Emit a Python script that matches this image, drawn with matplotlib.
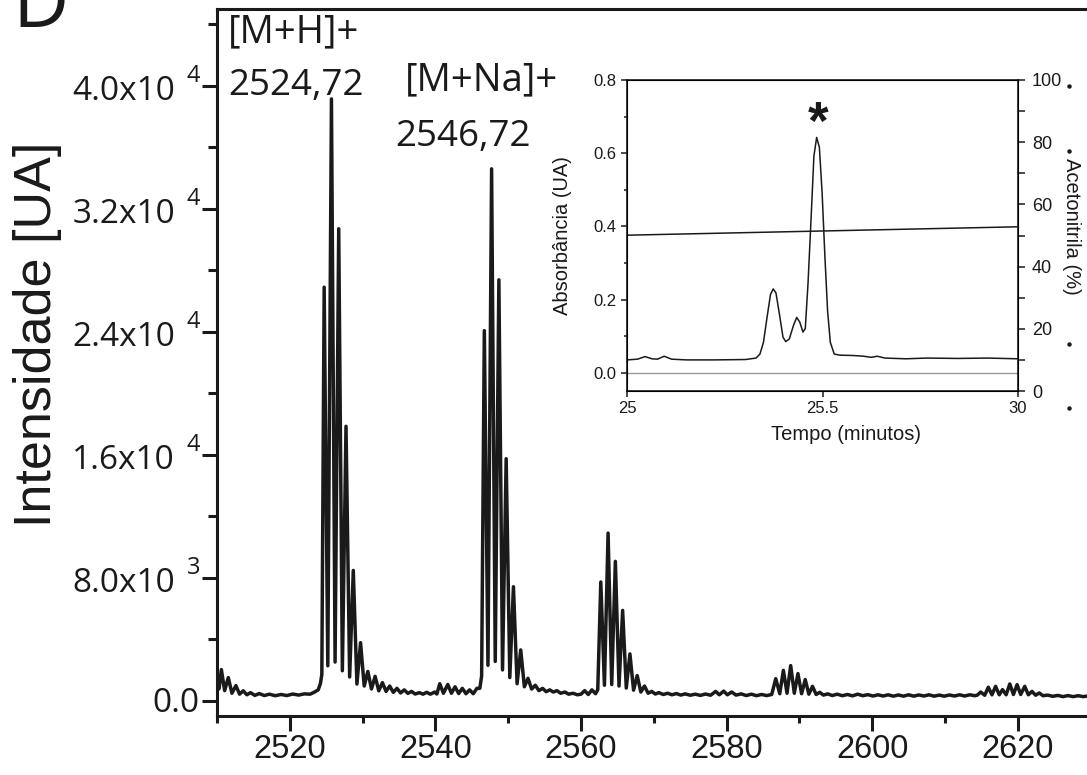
import matplotlib
matplotlib.use('Agg')
import matplotlib.pyplot as plt
import matplotlib.transforms as mtransforms
from matplotlib.lines import Line2D
from matplotlib.ticker import MultipleLocator, FixedLocator
import numpy as np

# Espectro MALDI-TOF: topos dos picos (m/z, contagens)
pico_mz = [2510.6, 2511.55, 2512.6,
           2524.72, 2525.72, 2526.72, 2527.72, 2528.72, 2529.72, 2530.72, 2531.72,
           2532.72, 2533.72, 2534.72, 2535.72, 2536.72,
           2546.72, 2547.72, 2548.72, 2549.72, 2550.72, 2551.72, 2552.72, 2553.72, 2554.72,
           2562.72, 2563.72, 2564.72, 2565.72, 2566.72, 2567.72, 2568.72, 2569.72,
           2586.75, 2587.8, 2588.8, 2589.8, 2590.8, 2591.8, 2592.8,
           2614.9, 2615.95, 2616.95, 2617.9, 2618.9, 2619.9, 2620.95, 2621.95, 2622.95]
pico_int = [2020, 1500, 975,
            26900, 39150, 30700, 17850, 8470, 3770, 1900, 1580,
            1170, 950, 800, 700, 600,
            24070, 34600, 27380, 15740, 7410, 3300, 1450, 1000, 800,
            7720, 10900, 9060, 5870, 3040, 1630, 950, 600,
            1430, 1970, 2280, 1760, 1370, 930, 540,
            560, 870, 930, 715, 1085, 1040, 930, 600, 500]

# linha de base e vales entre os picos
base_mz = [2510.0, 2510.3, 2511.05, 2512.05, 2513.1, 2513.6, 2514.1, 2514.6, 2515.2, 2515.8,
           2516.5, 2517.2, 2518.0, 2518.8, 2519.6, 2520.4, 2521.2, 2522.0, 2522.8, 2523.4,
           2523.9, 2524.2, 2524.4,
           2525.22, 2526.22, 2527.22, 2528.22, 2529.22, 2530.22, 2531.22, 2532.22, 2533.22,
           2534.22, 2535.22, 2536.22, 2537.22,
           2537.8, 2538.3, 2538.8, 2539.3, 2539.9, 2540.2, 2540.6, 2541.1, 2541.7, 2542.2,
           2542.7, 2543.2, 2543.7, 2544.2, 2544.7, 2545.2, 2545.7, 2546.1, 2546.35,
           2547.22, 2548.22, 2549.22, 2550.22, 2551.22, 2552.22, 2553.22, 2554.22, 2555.22,
           2555.7, 2556.2, 2556.7, 2557.2, 2557.8, 2558.3, 2558.9, 2559.5, 2560.0, 2560.5,
           2561.0, 2561.5, 2562.0, 2562.3,
           2563.22, 2564.22, 2565.22, 2566.22, 2567.22, 2568.22, 2569.22, 2570.2,
           2570.7, 2571.3, 2571.9, 2572.5, 2573.1, 2573.7, 2574.3, 2575.0, 2575.7, 2576.4,
           2577.1, 2577.8, 2578.5, 2579.0, 2579.6, 2580.1, 2580.7, 2581.3, 2582.0, 2582.7,
           2583.4, 2584.1, 2584.8, 2585.5, 2586.2,
           2587.3, 2588.3, 2589.3, 2590.3, 2591.3, 2592.3, 2593.3,
           2593.9, 2594.5, 2595.2, 2595.9, 2596.6, 2597.3, 2598.0, 2598.7, 2599.4, 2600.1,
           2600.8, 2601.5, 2602.2, 2602.9, 2603.6, 2604.3, 2605.0, 2605.7, 2606.4, 2607.1,
           2607.8, 2608.5, 2609.2, 2609.9, 2610.6, 2611.3, 2612.0, 2612.7, 2613.4, 2614.1,
           2614.45,
           2615.45, 2616.45, 2617.45, 2618.4, 2619.4, 2620.4, 2621.45, 2622.45, 2623.45,
           2624.1, 2624.8, 2625.5, 2626.2, 2626.9, 2627.6, 2628.3, 2629.0, 2629.7, 2630.3]
base_int = [650, 800, 650, 480, 420, 640, 380, 520, 340, 460,
            330, 420, 320, 400, 330, 430, 360, 440, 420, 560,
            700, 1100, 1700,
            2270, 2510, 1945, 1540, 1080, 950, 760, 640, 600,
            540, 500, 470, 430,
            520, 420, 540, 420, 560, 430, 1100, 480, 1050, 480,
            900, 460, 800, 450, 700, 450, 800, 800, 1600,
            2300, 2550, 2000, 1500, 1100, 900, 750, 650, 580,
            700, 560, 650, 480, 560, 420, 480, 380, 420, 650,
            400, 700, 450, 700,
            1000, 1050, 950, 820, 680, 560, 480, 430,
            520, 400, 480, 380, 460, 360, 440, 350, 420, 340,
            430, 350, 600, 380, 620, 380, 560, 360, 440, 330,
            420, 320, 400, 330, 400,
            450, 480, 480, 450, 420, 400, 360,
            440, 330, 420, 320, 400, 310, 420, 320, 390, 300,
            380, 300, 380, 290, 370, 290, 380, 290, 370, 300,
            380, 290, 360, 290, 370, 300, 380, 300, 380, 320,
            360,
            350, 380, 380, 380, 400, 400, 380, 350, 320,
            360, 280, 340, 260, 330, 260, 320, 260, 310, 280]

# marcas do eixo y principal
y_ticks = [0, 8000, 16000, 24000, 32000, 40000]
y_mant = ['0.0', '8.0x10', '1.6x10', '2.4x10', '3.2x10', '4.0x10']
y_exp = ['', '3', '4', '4', '4', '4']

# cromatograma RP-HPLC (inset)
tempo = [25.000, 25.027, 25.046, 25.064, 25.078, 25.095, 25.114, 25.152, 25.223, 25.303,
         25.330, 25.340, 25.349, 25.358, 25.367, 25.374, 25.381, 25.390, 25.399, 25.406,
         25.415, 25.426, 25.434, 25.442, 25.450, 25.456, 25.463, 25.471, 25.478, 25.485,
         25.492, 25.499, 25.506, 25.513, 25.520, 25.530, 25.544, 25.579, 25.606, 25.624,
         25.640, 25.660, 25.713, 25.766, 25.847, 25.922, 26.000]
absorb = [0.035, 0.037, 0.044, 0.038, 0.037, 0.045, 0.037, 0.035, 0.035, 0.036,
          0.040, 0.051, 0.083, 0.150, 0.214, 0.229, 0.218, 0.159, 0.097, 0.085,
          0.092, 0.130, 0.151, 0.138, 0.111, 0.121, 0.245, 0.426, 0.592, 0.643,
          0.616, 0.492, 0.321, 0.169, 0.083, 0.051, 0.048, 0.047, 0.045, 0.042,
          0.045, 0.040, 0.038, 0.040, 0.039, 0.040, 0.038]
grad_tempo = [25.0, 26.0]
grad_acn = [50.1, 52.8]
t_ticks = [25.0, 25.5, 26.0]
t_labels = ['25', '25.5', '30']

cor = '#1a1a1a'
W, H = 1087, 775
fig = plt.figure(figsize=(W / 100, H / 100), dpi=100)

# ---- espectro principal ----
ax = fig.add_axes([217 / W, 1 - 716 / H, 873.6 / W, 707 / H])
mz = np.array(pico_mz + base_mz)
inten = np.array(pico_int + base_int)
ordem = np.argsort(mz)
ax.plot(mz[ordem], inten[ordem], color=cor, lw=2.5, solid_joinstyle='round')
ax.set_xlim(2510, 2630)
ax.set_ylim(-1000, 45000)

for s in ['left', 'bottom', 'top']:
    ax.spines[s].set_linewidth(2.2)
    ax.spines[s].set_color(cor)
ax.spines['right'].set_visible(False)

ax.xaxis.set_major_locator(MultipleLocator(20))
ax.xaxis.set_minor_locator(MultipleLocator(10))
ax.yaxis.set_major_locator(FixedLocator(y_ticks))
ax.yaxis.set_minor_locator(MultipleLocator(4000))
ax.tick_params(axis='x', which='major', direction='out', length=11, width=2.2, color=cor, pad=2)
ax.tick_params(axis='x', which='minor', direction='out', length=5, width=2.2, color=cor)
ax.tick_params(axis='y', which='major', direction='out', length=10.5, width=2.2, color=cor)
ax.tick_params(axis='y', which='minor', direction='out', length=6.5, width=2.2, color=cor)
ax.set_yticklabels([])
for lb in ax.get_xticklabels():
    lb.set_family('Liberation Sans')
    lb.set_fontsize(23.5)
    lb.set_color(cor)

# rótulos do eixo y com expoente
trans_y = mtransforms.blended_transform_factory(ax.transAxes, ax.transData)
for v, m, e in zip(y_ticks, y_mant, y_exp):
    if e:
        t1 = trans_y + mtransforms.ScaledTranslation(-0.42, -0.14, fig.dpi_scale_trans)
        ax.text(0, v, m, transform=t1, ha='right', va='baseline', fontsize=24,
                family='Open Sans', color=cor)
        t2 = trans_y + mtransforms.ScaledTranslation(-0.17, 0.04, fig.dpi_scale_trans)
        ax.text(0, v, e, transform=t2, ha='right', va='baseline', fontsize=17,
                family='Open Sans', color=cor)
    else:
        t1 = trans_y + mtransforms.ScaledTranslation(-0.17, -0.11, fig.dpi_scale_trans)
        ax.text(0, v, m, transform=t1, ha='right', va='baseline', fontsize=24,
                family='Open Sans', color=cor)

ax.set_ylabel('Intensidade [UA]', fontsize=37.5, family='Liberation Sans', color=cor)
ax.yaxis.set_label_coords(-0.177, 0.54)

ax.text(2511.5, 42800, '[M+H]+', fontsize=27.5, family='Open Sans', color=cor,
        ha='left', va='baseline')
ax.text(2511.5, 39400, '2524,72', fontsize=26.5, family='Open Sans', color=cor,
        ha='left', va='baseline')
ax.text(2535.8, 39700, '[M+Na]+', fontsize=27.5, family='Open Sans', color=cor,
        ha='left', va='baseline')
ax.text(2534.5, 36100, '2546,72', fontsize=26.5, family='Open Sans', color=cor,
        ha='left', va='baseline')

fig.text(12 / W, 1 - 27 / H, 'D', fontsize=56, family='Open Sans', color=cor,
         ha='left', va='baseline')

# ---- inset: cromatograma ----
ai = fig.add_axes([627 / W, 1 - 391 / H, 391 / W, 311 / H])
ai.axhline(0, color='#9a9a9a', lw=1.0)
ai.plot(tempo, absorb, color=cor, lw=1.1)
ai.set_xlim(25, 26)
ai.set_ylim(-0.05, 0.8)
ai.set_xticks(t_ticks)
ai.set_xticklabels(t_labels)
ai.yaxis.set_major_locator(MultipleLocator(0.2))
ai.yaxis.set_minor_locator(MultipleLocator(0.1))
ai.yaxis.set_major_formatter(lambda v, p: f'{v:.1f}')
for s in ai.spines.values():
    s.set_linewidth(1.2)
    s.set_color(cor)
ai.tick_params(which='major', direction='out', length=4.5, width=1.1, color=cor,
               labelsize=12, labelcolor=cor, pad=3)
ai.tick_params(which='minor', direction='out', length=2.5, width=1.1, color=cor)
for lb in ai.get_xticklabels() + ai.get_yticklabels():
    lb.set_family('Liberation Sans')
ai.set_xlabel('Tempo (minutos)', fontsize=14.5, family='Liberation Sans', color=cor)
ai.xaxis.set_label_coords(0.56, -0.11)
ai.set_ylabel('Absorbância (UA)', fontsize=14.5, family='Liberation Sans', color=cor)
ai.yaxis.set_label_coords(-0.14, 0.5)
ai.text(25.488, 0.64, '*', fontsize=38, fontweight='bold', family='Liberation Sans',
        color=cor, ha='center', va='baseline')

ar = ai.twinx()
ar.plot(grad_tempo, grad_acn, color=cor, lw=1.1)
ar.set_ylim(0, 100)
ar.yaxis.set_major_locator(MultipleLocator(20))
ar.yaxis.set_minor_locator(MultipleLocator(10))
ar.tick_params(which='major', direction='out', length=5, width=1.1, color=cor,
               labelsize=13, labelcolor=cor, pad=5)
ar.tick_params(which='minor', direction='out', length=5, width=1.1, color=cor)
for lb in ar.get_yticklabels():
    lb.set_family('Liberation Sans')
ar.set_ylabel('Acetonitrila (%)', fontsize=14.5, family='Liberation Sans', color=cor,
              rotation=270, va='bottom')
ar.yaxis.set_label_coords(1.112, 0.53)

# pontos soltos à direita do inset
for py in [86, 151, 344, 408]:
    fig.add_artist(Line2D([1069 / W], [1 - py / H], marker='o', markersize=2.2,
                          color=cor, transform=fig.transFigure))

fig.savefig('out.png', dpi=100)
